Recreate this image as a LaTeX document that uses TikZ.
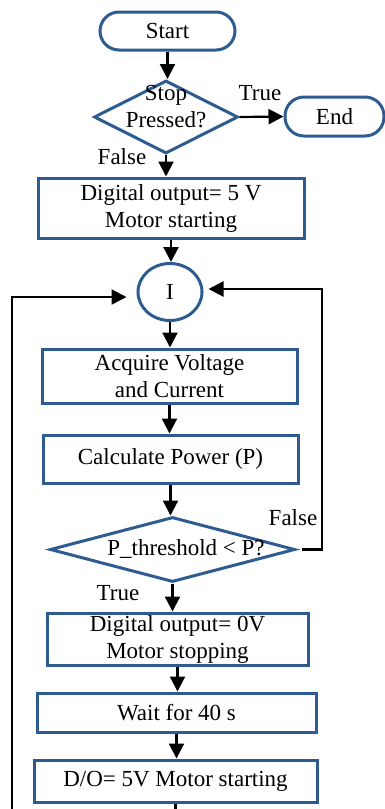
\documentclass[tikz,border=0pt]{standalone}
\usepackage{fontspec}
\setmainfont{Liberation Serif}
\usetikzlibrary{arrows.meta,shapes.geometric}
\definecolor{flowBlue}{HTML}{2E5C91}
\tikzset{
  font=\fontsize{23}{27}\selectfont,
  arrow/.style={-{Triangle[length=15pt,width=15pt]},draw=black,line width=2.2pt},
  plainline/.style={draw=black,line width=2.2pt},
  terminal/.style={rectangle,rounded corners=19pt,draw=flowBlue,line width=3pt,fill=white,
    align=center,inner sep=0pt},
  decision/.style={diamond,draw=flowBlue,line width=3pt,inner sep=0pt},
  process/.style={rectangle,draw=flowBlue,line width=3pt,align=center,inner sep=0pt},
  joint/.style={ellipse,draw=flowBlue,line width=3pt,inner sep=0pt},
  txt/.style={align=center,inner sep=0pt},
}

\begin{document}
\begin{tikzpicture}[x=1pt,y=-1pt]
\useasboundingbox (0,0) rectangle (385,809);

\node[terminal,minimum width=135pt,minimum height=38pt] (start) at (167.5,31) {Start};

\node[decision,minimum width=144pt,minimum height=73pt] (stop) at (166,117) {};
\node[txt] (stoptxt) at (166,107) {Stop\\Pressed?};
\node[terminal,minimum width=99pt,minimum height=39pt] (end) at (334.5,116.5) {End};
\node[txt] (stoptrue) at (260,93) {True};
\node[txt] (stopfalse) at (122,157) {False};

\node[process,minimum width=266pt,minimum height=60pt] (motoron) at (171,208)
  {Digital output= 5 V\\Motor starting};

\node[joint,minimum width=64pt,minimum height=57pt] (loop) at (170,292) {I};

\node[process,minimum width=255pt,minimum height=54pt] (acquire) at (169.5,376)
  {Acquire Voltage\\and Current};
\node[process,minimum width=255pt,minimum height=48pt] (calc) at (170.5,459)
  {Calculate Power (P)};

\node[decision,minimum width=245pt,minimum height=65pt] (thresh) at (172.5,549.5) {};
\node[txt] (threshtxt) at (186,549) {P\_threshold < P?};
\node[txt] (threshfalse) at (293,518) {False};
\node[txt] (threshtrue) at (118,593) {True};

\node[process,minimum width=261pt,minimum height=52pt] (motoroff) at (177.5,639)
  {Digital output= 0V\\Motor stopping};
\node[process,minimum width=279pt,minimum height=39pt] (wait) at (176.5,712.5)
  {Wait for 40 s};
\node[process,minimum width=283pt,minimum height=42pt] (restart) at (175.5,781)
  {D/O= 5V Motor starting};

\coordinate (rtop) at (322,289);
\coordinate (ltop) at (12,297);
\coordinate (lbot) at (12,809);
\coordinate (dbot) at (175,809);

\draw[arrow] (start.south) -- (start.south |- stop.north);
\draw[arrow] (stop.east) -- (end.west);
\draw[arrow] (stop.south) -- (stop.south |- motoron.north);
\draw[arrow] (motoron.south) -- (motoron.south |- loop.north);
\draw[arrow] (loop.south) -- (loop.south |- acquire.north);
\draw[arrow] (acquire.south) -- (acquire.south |- calc.north);
\draw[arrow] (calc.south) -- (calc.south |- thresh.north);
\draw[arrow] (thresh.south) -- (thresh.south |- motoroff.north);
\draw[arrow] (motoroff.south) -- (motoroff.south |- wait.north);
\draw[arrow] (wait.south) -- (wait.south |- restart.north);
\draw[plainline] (restart.south) -- (restart.south |- dbot);

\draw[arrow] ([xshift=5pt]thresh.east) -| (rtop) -- ([xshift=5pt]loop.east |- rtop);
\draw[arrow] (lbot) -- (ltop) -- ([xshift=-10pt]loop.west |- ltop);

\end{tikzpicture}
\end{document}
